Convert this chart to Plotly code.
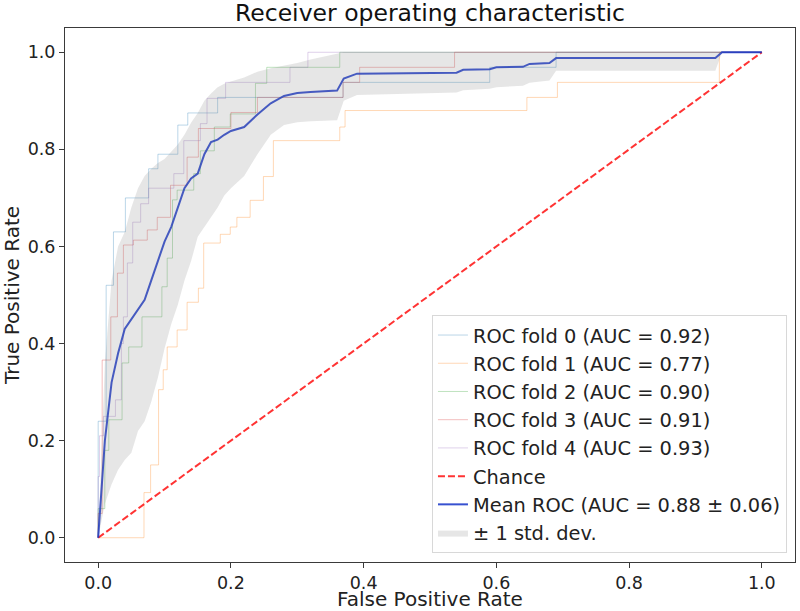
import plotly.graph_objects as go

# ---------------- data ----------------
fold_names = ["ROC fold 0 (AUC = 0.92)", "ROC fold 1 (AUC = 0.77)", "ROC fold 2 (AUC = 0.90)",
              "ROC fold 3 (AUC = 0.91)", "ROC fold 4 (AUC = 0.93)"]

fold0_fpr = [0, 0, 0.012, 0.012, 0.023, 0.023, 0.041, 0.041, 0.076, 0.076, 0.09, 0.09, 0.12, 0.12,
             0.135, 0.135, 0.18, 0.18, 0.369, 0.369, 0.59, 0.59, 0.69, 0.69, 1.0]
fold0_tpr = [0, 0.24, 0.24, 0.52, 0.52, 0.63, 0.63, 0.70, 0.70, 0.76, 0.76, 0.79, 0.79, 0.85,
             0.85, 0.875, 0.875, 0.907, 0.907, 0.938, 0.938, 0.969, 0.969, 1.0, 1.0]

fold1_fpr = [0, 0.069, 0.069, 0.079, 0.079, 0.091, 0.091, 0.098, 0.098, 0.104, 0.104, 0.119, 0.119,
             0.134, 0.134, 0.151, 0.151, 0.159, 0.159, 0.184, 0.184, 0.199, 0.199, 0.209, 0.209,
             0.229, 0.229, 0.249, 0.249, 0.264, 0.264, 0.364, 0.364, 0.372, 0.372, 0.646, 0.646,
             0.692, 0.692, 0.936, 0.936, 1.0]
fold1_tpr = [0, 0, 0.093, 0.093, 0.15, 0.15, 0.305, 0.305, 0.346, 0.346, 0.393, 0.393, 0.428,
             0.428, 0.485, 0.485, 0.514, 0.514, 0.607, 0.607, 0.625, 0.625, 0.64, 0.64, 0.66,
             0.66, 0.695, 0.695, 0.744, 0.744, 0.818, 0.818, 0.846, 0.846, 0.88, 0.88, 0.907,
             0.907, 0.938, 0.938, 1.0, 1.0]

fold2_fpr = [0, 0, 0.01, 0.01, 0.016, 0.016, 0.036, 0.036, 0.046, 0.046, 0.066, 0.066, 0.096, 0.096,
             0.104, 0.104, 0.112, 0.112, 0.119, 0.119, 0.144, 0.144, 0.154, 0.154, 0.175, 0.175,
             0.199, 0.199, 0.237, 0.237, 0.254, 0.254, 0.364, 0.364, 1.0]
fold2_tpr = [0, 0.06, 0.06, 0.18, 0.18, 0.243, 0.243, 0.36, 0.36, 0.393, 0.393, 0.455, 0.455, 0.517,
             0.517, 0.576, 0.576, 0.696, 0.696, 0.716, 0.716, 0.75, 0.75, 0.797, 0.797, 0.846,
             0.846, 0.873, 0.873, 0.936, 0.936, 0.969, 0.969, 1.0, 1.0]

fold3_fpr = [0, 0, 0.006, 0.006, 0.019, 0.019, 0.029, 0.029, 0.038, 0.038, 0.053, 0.053, 0.074, 0.074,
             0.089, 0.089, 0.109, 0.109, 0.134, 0.134, 0.151, 0.151, 0.20, 0.20, 0.24, 0.24,
             0.369, 0.369, 0.394, 0.394, 0.537, 0.537, 1.0]
fold3_tpr = [0, 0.05, 0.05, 0.366, 0.366, 0.455, 0.455, 0.545, 0.545, 0.603, 0.603, 0.613, 0.613, 0.634,
             0.634, 0.66, 0.66, 0.726, 0.726, 0.784, 0.784, 0.843, 0.843, 0.876, 0.876, 0.907,
             0.907, 0.938, 0.938, 0.969, 0.969, 1.0, 1.0]

fold4_fpr = [0, 0, 0.002, 0.002, 0.008, 0.008, 0.026, 0.026, 0.035, 0.035, 0.038, 0.038, 0.044, 0.044,
             0.052, 0.052, 0.064, 0.064, 0.076, 0.076, 0.114, 0.114, 0.129, 0.129, 0.154, 0.154,
             0.164, 0.164, 0.192, 0.192, 0.289, 0.289, 0.316, 0.316, 1.0]
fold4_tpr = [0, 0.126, 0.126, 0.21, 0.21, 0.25, 0.25, 0.284, 0.284, 0.40, 0.40, 0.455, 0.455, 0.566,
             0.566, 0.65, 0.65, 0.688, 0.688, 0.72, 0.72, 0.75, 0.75, 0.818, 0.818, 0.853,
             0.853, 0.905, 0.905, 0.938, 0.938, 0.969, 0.969, 1.0, 1.0]

chance_x = [0, 1]
chance_y = [0, 1]

mean_fpr = [0, 0.0101, 0.0202, 0.03, 0.04, 0.05, 0.06, 0.07, 0.08, 0.09, 0.10, 0.11, 0.12, 0.13,
            0.14, 0.15, 0.16, 0.17, 0.18, 0.19, 0.20, 0.22, 0.24, 0.26, 0.28, 0.30, 0.32, 0.36,
            0.37, 0.39, 0.54, 0.55, 0.59, 0.60, 0.64, 0.65, 0.68, 0.69, 0.93, 0.94, 1.0]
mean_tpr = [0, 0.20, 0.32, 0.38, 0.43, 0.45, 0.47, 0.49, 0.53, 0.57, 0.61, 0.64, 0.68, 0.72,
            0.74, 0.75, 0.79, 0.815, 0.82, 0.83, 0.838, 0.846, 0.872, 0.895, 0.91, 0.916, 0.918, 0.921,
            0.946, 0.956, 0.958, 0.964, 0.965, 0.969, 0.970, 0.976, 0.978, 0.988, 0.988, 1.0, 1.0]
tpr_lower = [0, 0.07, 0.11, 0.14, 0.16, 0.175, 0.22, 0.24, 0.28, 0.33, 0.39, 0.44, 0.48, 0.53,
             0.57, 0.62, 0.64, 0.66, 0.68, 0.705, 0.72, 0.745, 0.79, 0.83, 0.85, 0.856, 0.858, 0.860,
             0.90, 0.912, 0.917, 0.922, 0.925, 0.928, 0.931, 0.937, 0.942, 0.962, 0.962, 1.0, 1.0]
tpr_upper = [0, 0.36, 0.53, 0.60, 0.63, 0.68, 0.72, 0.745, 0.76, 0.772, 0.78, 0.795, 0.81, 0.83,
             0.855, 0.875, 0.90, 0.915, 0.928, 0.935, 0.94, 0.948, 0.96, 0.967, 0.972, 0.978, 0.985, 0.997,
             1.0, 1.0, 1.0, 1.0, 1.0, 1.0, 1.0, 1.0, 1.0, 1.0, 1.0, 1.0, 1.0]

tick_vals = [0.0, 0.2, 0.4, 0.6, 0.8, 1.0]

# ---------------- figure ----------------
FONT = "DejaVu Sans"
fold_colors = ["rgba(31,119,180,0.3)", "rgba(255,127,14,0.3)", "rgba(44,160,44,0.3)",
               "rgba(214,39,40,0.3)", "rgba(148,103,189,0.3)"]
folds = [(fold0_fpr, fold0_tpr), (fold1_fpr, fold1_tpr), (fold2_fpr, fold2_tpr),
         (fold3_fpr, fold3_tpr), (fold4_fpr, fold4_tpr)]

fig = go.Figure()
for (fx, fy), name, col in zip(folds, fold_names, fold_colors):
    fig.add_trace(go.Scatter(x=fx, y=fy, mode="lines", name=name,
                             line=dict(color=col, width=1)))

fig.add_trace(go.Scatter(x=chance_x, y=chance_y, mode="lines", name="Chance",
                         line=dict(color="rgba(255,0,0,0.8)", width=2, dash="7px,3px")))

fig.add_trace(go.Scatter(x=mean_fpr, y=mean_tpr, mode="lines",
                         name="Mean ROC (AUC = 0.88 \u00b1 0.06)",
                         line=dict(color="rgba(20,50,200,0.85)", width=2)))

fig.add_trace(go.Scatter(x=mean_fpr, y=tpr_lower, mode="lines", showlegend=False,
                         line=dict(width=0, color="rgba(0,0,0,0)"), hoverinfo="skip"))
fig.add_trace(go.Scatter(x=mean_fpr, y=tpr_upper, mode="lines", fill="tonexty",
                         name="\u00b1 1 std. dev.",
                         fillcolor="rgba(128,128,128,0.2)",
                         line=dict(width=0, color="rgba(128,128,128,0.2)")))

axis_common = dict(range=[-0.05, 1.05], tickvals=tick_vals, tickformat=".1f",
                   showgrid=False, zeroline=False, showline=True, mirror=True,
                   linecolor="#3a3a3a", linewidth=1, ticks="outside", ticklen=5,
                   tickcolor="#3a3a3a", tickfont=dict(family=FONT, size=17.5, color="#222"))

fig.update_layout(
    width=800, height=611,
    margin=dict(l=65, r=5, t=28, b=49, autoexpand=False),
    paper_bgcolor="white", plot_bgcolor="white",
    font=dict(family=FONT, size=17.5, color="#222"),
    title=dict(text="Receiver operating characteristic", x=0.5375, xanchor="center",
               y=1 - 13 / 611, yanchor="middle", yref="container",
               font=dict(family=FONT, size=23.5, color="#111")),
    xaxis=dict(title=dict(text="False Positive Rate", standoff=3,
                          font=dict(family=FONT, size=20, color="#222")), **axis_common),
    yaxis=dict(title=dict(text="True Positive Rate", standoff=4,
                          font=dict(family=FONT, size=20, color="#222")), **axis_common),
    legend=dict(x=0.989, y=0.017, xanchor="right", yanchor="bottom",
                bgcolor="rgba(255,255,255,0.8)", bordercolor="#d8d8d8", borderwidth=1,
                font=dict(family=FONT, size=19.4, color="#222"), traceorder="normal"),
    showlegend=True,
)

fig.write_html("out.html", config={"displayModeBar": False},
               post_script="document.body.style.margin='0px';")
